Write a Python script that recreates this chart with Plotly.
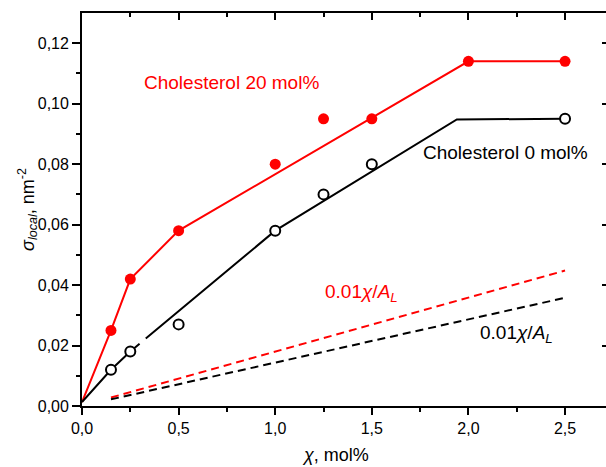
import plotly.graph_objects as go

# ---- data ----
chol20_x = [0.15, 0.25, 0.5, 1.0, 1.25, 1.5, 2.0, 2.5]
chol20_y = [0.025, 0.042, 0.058, 0.080, 0.095, 0.095, 0.114, 0.114]
chol20_fit_x = [0.0, 0.15, 0.25, 0.5, 2.0, 2.5]
chol20_fit_y = [0.0013, 0.025, 0.042, 0.058, 0.114, 0.114]

chol0_x = [0.15, 0.25, 0.5, 1.0, 1.25, 1.5, 2.5]
chol0_y = [0.012, 0.018, 0.027, 0.058, 0.070, 0.080, 0.095]
chol0_fit_x = [0.0, 0.15, 0.25, 0.298, None, 0.33, 1.0, 1.94, 2.5]
chol0_fit_y = [0.0013, 0.012, 0.018, 0.0206, None, 0.0223, 0.058, 0.0948, 0.095]

lin20_x = [0.15, 2.5]
lin20_y = [0.0028, 0.0448]
lin0_x = [0.15, 2.5]
lin0_y = [0.0022, 0.0358]

RED = "#ff0000"
BLACK = "#000000"
FONT = "Liberation Sans, Arial, sans-serif"

fig = go.Figure()

fig.add_trace(go.Scatter(x=lin20_x, y=lin20_y, mode="lines",
                         line=dict(color=RED, width=2, dash="8px,5px"), showlegend=False))
fig.add_trace(go.Scatter(x=lin0_x, y=lin0_y, mode="lines",
                         line=dict(color=BLACK, width=2, dash="8px,5px"), showlegend=False))
fig.add_trace(go.Scatter(x=chol20_fit_x, y=chol20_fit_y, mode="lines",
                         line=dict(color=RED, width=2), showlegend=False))
fig.add_trace(go.Scatter(x=chol0_fit_x, y=chol0_fit_y, mode="lines", connectgaps=False,
                         line=dict(color=BLACK, width=2), showlegend=False))
fig.add_trace(go.Scatter(x=chol20_x, y=chol20_y, mode="markers",
                         marker=dict(color=RED, size=11, line=dict(width=0)), showlegend=False))
fig.add_trace(go.Scatter(x=chol0_x, y=chol0_y, mode="markers",
                         marker=dict(color="white", size=10, line=dict(color=BLACK, width=2)),
                         showlegend=False))
# dummy trace to create the mirrored top/right axes
fig.add_trace(go.Scatter(x=[None], y=[None], xaxis="x2", yaxis="y2", showlegend=False,
                         hoverinfo="skip"))

XR = [0, 2.712]
YR = [0, 0.13]

fig.update_layout(
    width=606, height=467,
    margin=dict(l=82, r=0, t=13, b=61),
    plot_bgcolor="white", paper_bgcolor="white",
    separators=",.",
    font=dict(family=FONT, size=16, color="black"),
    xaxis=dict(range=XR, showgrid=False, zeroline=False, showline=True, linecolor="black",
               linewidth=1.8, ticks="outside", ticklen=7, tickwidth=1.5, tickcolor="black",
               tickvals=[0, 0.5, 1.0, 1.5, 2.0, 2.5], tickformat=".1f",
               tickfont=dict(size=16, family=FONT),
               minor=dict(tickvals=[0.25, 0.75, 1.25, 1.75, 2.25], ticks="outside",
                          ticklen=4, tickwidth=1.5, tickcolor="black")),
    yaxis=dict(range=YR, showgrid=False, zeroline=False, showline=True, linecolor="black",
               linewidth=1.8, ticks="outside", ticklen=8, tickwidth=1.5, tickcolor="black",
               tickvals=[0, 0.02, 0.04, 0.06, 0.08, 0.10, 0.12], tickformat=".2f",
               tickfont=dict(size=16, family=FONT),
               minor=dict(tickvals=[0.01, 0.03, 0.05, 0.07, 0.09, 0.11], ticks="outside",
                          ticklen=4, tickwidth=1.5, tickcolor="black")),
    xaxis2=dict(range=XR, overlaying="x", side="top", anchor="y2", showgrid=False,
                zeroline=False, showline=True, linecolor="black", linewidth=1.8,
                ticks="inside", ticklen=7, tickwidth=1.5, tickcolor="black",
                tickvals=[0, 0.5, 1.0, 1.5, 2.0, 2.5], showticklabels=False,
                minor=dict(tickvals=[0.25, 0.75, 1.25, 1.75, 2.25], ticks="inside",
                           ticklen=4, tickwidth=1.5, tickcolor="black")),
    yaxis2=dict(range=YR, overlaying="y", side="right", anchor="x2", showgrid=False,
                zeroline=False, showline=False, ticks="inside", ticklen=4, tickwidth=1.5,
                tickcolor="black", tickvals=[0, 0.02, 0.04, 0.06, 0.08, 0.10, 0.12],
                showticklabels=False),
    annotations=[
        dict(x=0.313, y=0.1069, xref="x", yref="y", text="Cholesterol 20 mol%",
             showarrow=False, xanchor="left", yanchor="middle",
             font=dict(size=19, color=RED, family=FONT)),
        dict(x=1.757, y=0.0837, xref="x", yref="y", text="Cholesterol 0 mol%",
             showarrow=False, xanchor="left", yanchor="middle",
             font=dict(size=19, color=BLACK, family=FONT)),
        dict(x=1.245, y=0.0373, xref="x", yref="y",
             text="0.01<i>χ</i>/<i>A</i><sub><i>L</i></sub>",
             showarrow=False, xanchor="left", yanchor="middle",
             font=dict(size=19, color=RED, family=FONT)),
        dict(x=2.047, y=0.0238, xref="x", yref="y",
             text="0.01<i>χ</i>/<i>A</i><sub><i>L</i></sub>",
             showarrow=False, xanchor="left", yanchor="middle",
             font=dict(size=19, color=BLACK, family=FONT)),
        dict(x=0.483, y=-0.1247, xref="paper", yref="paper", text="<i>χ</i>, mol%",
             showarrow=False, xanchor="center", yanchor="middle",
             font=dict(size=18, family=FONT)),
        dict(x=-0.103, y=0.499, xref="paper", yref="paper",
             text="<i>σ</i><sub><i>local</i></sub>, nm<sup>-2</sup>",
             showarrow=False, xanchor="center", yanchor="middle", textangle=-90,
             font=dict(size=18, family=FONT)),
    ],
)

fig.write_html("out.html")
